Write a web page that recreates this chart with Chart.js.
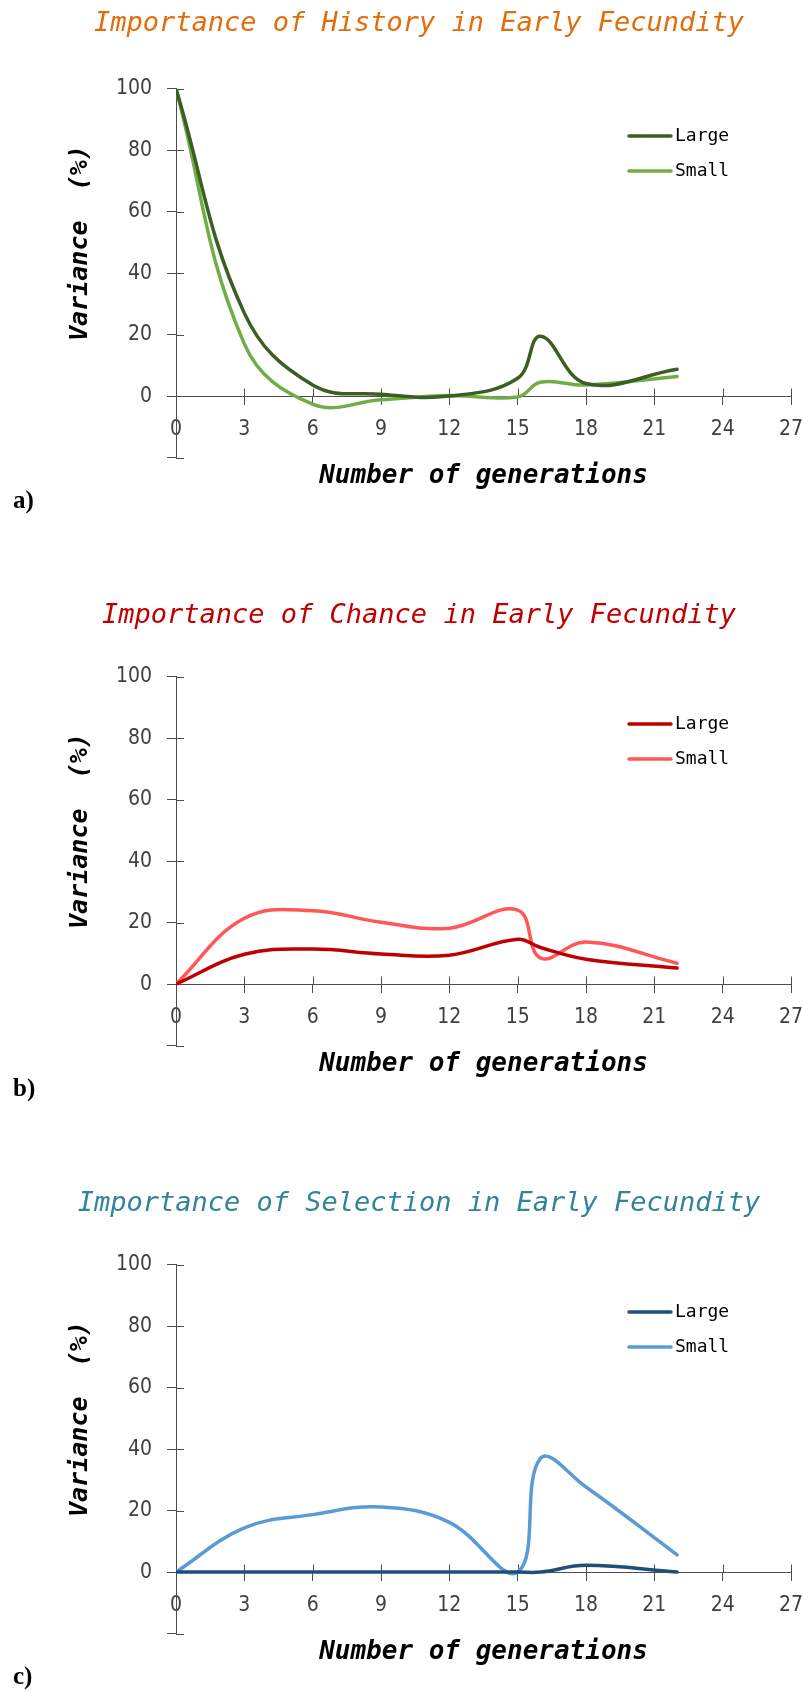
<!DOCTYPE html>
<html>
<head>
<meta charset="utf-8">
<title>Importance of History, Chance and Selection in Early Fecundity</title>
<script src="https://cdn.jsdelivr.net/npm/chart.js@4.4.1/dist/chart.umd.min.js"></script>
<style>
  html, body { margin: 0; padding: 0; background: #fff; }
  body { width: 803px; height: 1692px; position: relative; overflow: hidden; }
  .panel { position: absolute; left: 0; width: 803px; height: 516px; }
  .panel canvas { display: block; }
  .tag { position: absolute; left: 13px; top: 487px; font: bold 25px/1 'Liberation Serif', 'DejaVu Serif', serif; color: #000; }
</style>
</head>
<body>
<div class="panel" style="top:0px"><canvas id="history" width="803" height="516"></canvas><div class="tag">a)</div></div>
<div class="panel" style="top:588px"><canvas id="chance" width="803" height="516"></canvas><div class="tag">b)</div></div>
<div class="panel" style="top:1176px"><canvas id="selection" width="803" height="516"></canvas><div class="tag">c)</div></div>

<script>
    // generations where the variance was estimated
    const generations = [0, 3, 6, 9, 12, 15, 16, 18, 22];
    const seriesNames = ['Large', 'Small'];

    // variance (%)
    const historyLarge   = [100, 27, 3.6, 0.6, 0, 5.8, 19.5, 4.1, 8.7];
    const historySmall   = [100, 17, -2.6, -1.2, 0.2, -0.3, 4.5, 3.6, 6.4];
    const chanceLarge    = [0, 9.7, 11.4, 9.8, 9.4, 14.6, 11.9, 8.1, 5.2];
    const chanceSmall    = [0, 21.4, 23.9, 20.1, 18.2, 24.1, 8.5, 13.7, 6.8];
    const selectionLarge = [0, 0, 0, 0, 0, 0, 0, 2.2, 0];
    const selectionSmall = [0, 14.4, 18.7, 21.2, 16.2, 0, 37, 27.7, 5.6];

    // axis ranges
    const xMin = 0, xMax = 27, xStep = 3;
    const yMin = -20, yMax = 100, yStep = 20;

    const mono = "'DejaVu Sans Mono', monospace";
    const tickFont = "'DejaVu Sans Condensed', 'Liberation Sans Narrow', 'DejaVu Sans', sans-serif";
    const axisColor = '#4d4d4d';

    // ticks crossing the axis lines (inner half)
    const crossTicks = {
        id: 'crossTicks',
        beforeDatasetsDraw(chart) {
            const {ctx, scales: {x, y}} = chart;
            const y0 = Math.round(y.getPixelForValue(0)) + 0.5;
            ctx.save();
            ctx.strokeStyle = axisColor;
            ctx.lineWidth = 1;
            ctx.beginPath();
            x.ticks.forEach(t => {
                const px = Math.round(x.getPixelForValue(t.value)) + 0.5;
                ctx.moveTo(px, y0);
                ctx.lineTo(px, y0 - 8);
            });
            y.ticks.forEach(t => {
                const py = Math.round(y.getPixelForValue(t.value)) + 0.5;
                ctx.moveTo(x.left, py);
                ctx.lineTo(x.left + 8, py);
            });
            ctx.stroke();
            ctx.restore();
        }
    };

    // legend sits inside the plot, upper right
    const insideLegend = {
        id: 'insideLegend',
        afterDatasetsDraw(chart) {
            const {ctx, chartArea} = chart;
            ctx.save();
            ctx.font = '18px ' + mono;
            ctx.textBaseline = 'middle';
            chart.data.datasets.forEach((ds, i) => {
                const yy = chartArea.top + 47 + i * 35;
                const x0 = chartArea.right - 162;
                ctx.strokeStyle = ds.borderColor;
                ctx.lineWidth = 3.5;
                ctx.lineCap = 'round';
                ctx.beginPath();
                ctx.moveTo(x0, yy);
                ctx.lineTo(x0 + 42, yy);
                ctx.stroke();
                ctx.fillStyle = '#000';
                ctx.fillText(ds.label, x0 + 46, yy);
            });
            ctx.restore();
        }
    };

    function toPoints(values) {
        return generations.map((g, i) => ({x: g, y: values[i]}));
    }

    function drawPanel(id, titleText, titleColor, titleTop, large, small, colors) {
        new Chart(document.getElementById(id), {
            type: 'line',
            data: {
                datasets: [
                    {label: seriesNames[0], data: toPoints(large), borderColor: colors[0], backgroundColor: colors[0]},
                    {label: seriesNames[1], data: toPoints(small), borderColor: colors[1], backgroundColor: colors[1]}
                ]
            },
            options: {
                responsive: false,
                animation: false,
                layout: {padding: {left: 35, right: 0, top: 0, bottom: 58.5}},
                elements: {
                    point: {radius: 0},
                    line: {borderWidth: 3.5, tension: 0.4, borderCapStyle: 'round', fill: false}
                },
                plugins: {
                    legend: {display: false},
                    tooltip: {enabled: false},
                    title: {
                        display: true,
                        text: titleText,
                        color: titleColor,
                        font: {family: mono, size: 27, style: 'italic', weight: 'normal', lineHeight: 1.2},
                        padding: {top: titleTop, bottom: 56.5 - titleTop}
                    }
                },
                scales: {
                    x: {
                        type: 'linear',
                        position: {y: 0},
                        min: xMin,
                        max: xMax,
                        ticks: {stepSize: xStep, color: '#404040', font: {family: tickFont, size: 21}, padding: 13},
                        grid: {drawOnChartArea: false, tickLength: 8, color: axisColor},
                        border: {color: axisColor, width: 1},
                        title: {
                            display: true,
                            text: 'Number of generations',
                            color: '#000',
                            font: {family: mono, size: 26, style: 'italic', weight: 'bold', lineHeight: 1.2},
                            padding: 0
                        },
                        afterFit: s => {
                            s.height = 95.5;
                            s.paddingRight = 12;
                            s.paddingLeft = 0;
                        }
                    },
                    y: {
                        type: 'linear',
                        min: yMin,
                        max: yMax,
                        ticks: {
                            stepSize: yStep,
                            color: '#404040',
                            font: {family: tickFont, size: 21},
                            padding: 15,
                            callback: v => (v < 0 ? '' : v)
                        },
                        grid: {drawOnChartArea: false, tickLength: 9, color: axisColor},
                        border: {color: axisColor, width: 1},
                        title: {
                            display: true,
                            text: '    Variance  (%)',
                            color: '#000',
                            font: {family: mono, size: 25, style: 'italic', weight: 'bold', lineHeight: 1.2},
                            padding: {top: 30, bottom: 0}
                        },
                        afterFit: s => { s.width = 141; }
                    }
                }
            },
            plugins: [crossTicks, insideLegend]
        });
    }

    drawPanel('history', 'Importance of History in Early Fecundity', '#E46C0A', 8,
        historyLarge, historySmall, ['#3B5E23', '#70AD47']);
    drawPanel('chance', 'Importance of Chance in Early Fecundity', '#C00000', 12,
        chanceLarge, chanceSmall, ['#C00000', '#FF5757']);
    drawPanel('selection', 'Importance of Selection in Early Fecundity', '#31849B', 12,
        selectionLarge, selectionSmall, ['#1F4E79', '#5B9BD5']);
</script>
</body>
</html>
